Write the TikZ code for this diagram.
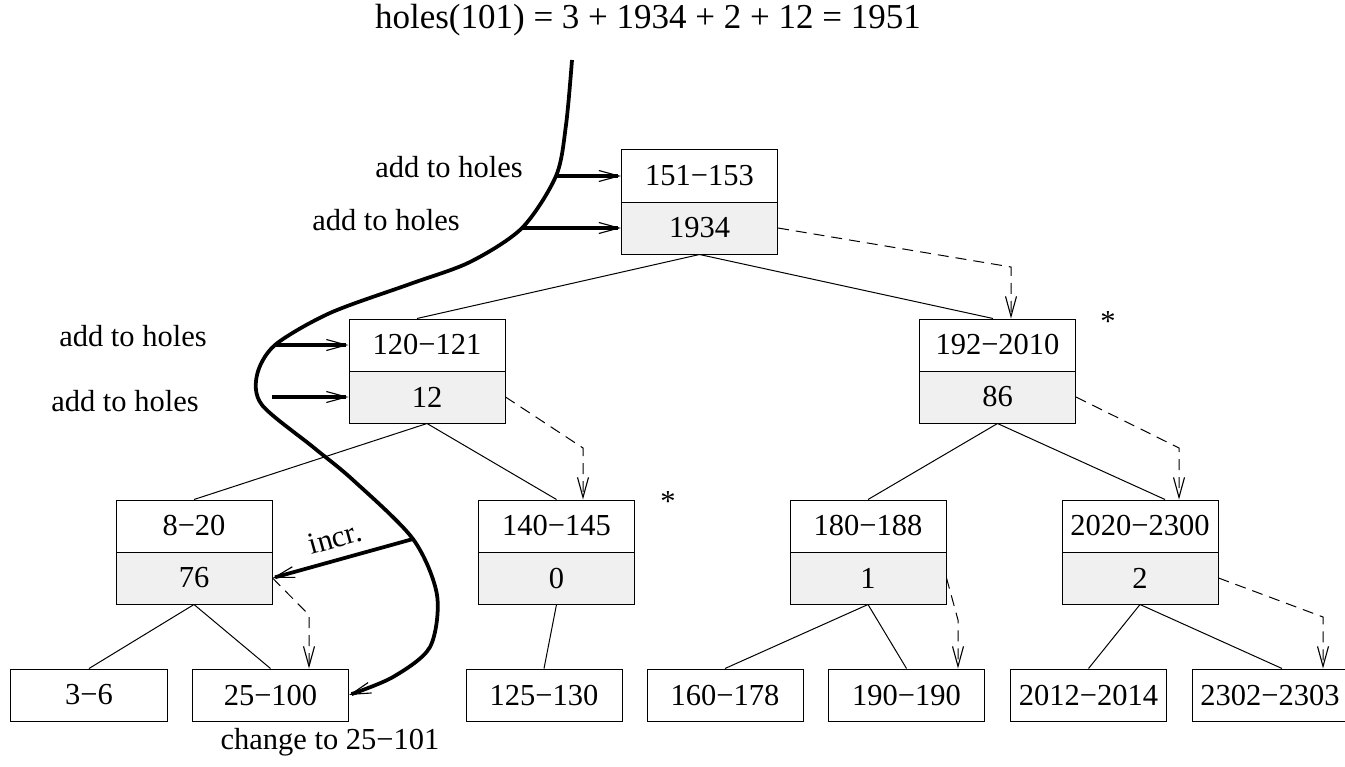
\documentclass[tikz,border=0pt]{standalone}
\usepackage{fontspec}
\setmainfont{Liberation Serif}
\usetikzlibrary{arrows.meta,calc}

\begin{document}
\begin{tikzpicture}[x=0.4pt,y=-0.4pt,font=\fontsize{12.2}{14}\selectfont,
    cell/.style={draw,line width=0.4pt,minimum width=62.4pt,minimum height=20.8pt,inner sep=0pt},
    cnt/.style={cell,fill=gray!12},
    tree/.style={line width=0.4pt},
    tip/.style={-{Straight Barb[length=8pt,width=4.4pt,line width=0.45pt]}},
    ptr/.style={tip,line width=0.4pt,dash pattern=on 4.4pt off 2.8pt},
    walk/.style={tip,line width=1.5pt}]
  \useasboundingbox (0,0) rectangle (1345,766);

  \node (sum) at (648,20) {\fontsize{14}{16}\selectfont holes(101) = 3 + 1934 + 2 + 12 = 1951};

  % inner nodes: key range on top, holes count below
  \node[cell] (n151) at (699.5,176) {151−153};
  \node[cnt] (h151) at (699.5,228) {1934};
  \node[cell] (n120) at (427,345) {120−121};
  \node[cnt] (h120) at (427,397) {12};
  \node[cell] (n192) at (997.5,345) {192−2010};
  \node[cnt] (h192) at (997.5,397) {86};
  \node[cell] (n8) at (194,526) {8−20};
  \node[cnt] (h8) at (194,578) {76};
  \node[cell] (n140) at (556.5,526) {140−145};
  \node[cnt] (h140) at (556.5,578) {0};
  \node[cell] (n180) at (868,526) {180−188};
  \node[cnt] (h180) at (868,578) {1};
  \node[cell] (n2020) at (1140,526) {2020−2300};
  \node[cnt] (h2020) at (1140,578) {2};
  % leaves
  \node[cell] (n3) at (89,695) {3−6};
  \node[cell] (n25) at (270.5,695) {25−100};
  \node[cell] (n125) at (544,695) {125−130};
  \node[cell] (n160) at (725,695) {160−178};
  \node[cell] (n190) at (906.5,695) {190−190};
  \node[cell] (n2012) at (1088.5,695) {2012−2014};
  \node[cell] (n2302) at (1270,695) {2302−2303};

  \node (s192) at (1108,322) {*};
  \node (s140) at (668,502) {*};

  % tree edges
  \draw[tree] (h151.south) -- ([xshift=-4pt]n120.north);
  \draw[tree] (h151.south) -- ([xshift=-1.8pt]n192.north);
  \draw[tree] (h120.south) -- (n8.north);
  \draw[tree] (h120.south) -- (n140.north);
  \draw[tree] (h192.south) -- (n180.north);
  \draw[tree] (h192.south) -- ([xshift=10pt]n2020.north);
  \draw[tree] (h8.south) -- (n3.north);
  \draw[tree] (h8.south) -- (n25.north);
  \draw[tree] (h140.south) -- (n125.north);
  \draw[tree] (h180.south) -- (n160.north);
  \draw[tree] (h180.south) -- (n190.north);
  \draw[tree] (h2020.south) -- (n2012.north);
  \draw[tree] (h2020.south) -- ([xshift=4.8pt]n2302.north);

  % dashed pointers
  \coordinate (d151) at (1011,267);
  \coordinate (d120) at (583,448);
  \coordinate (d192) at (1179,448);
  \coordinate (d8) at (309,615);
  \coordinate (d180) at (958,620);
  \coordinate (d2020) at (1323,617);
  \draw[ptr] (h151.east) -- (d151) -- (d151 |- n192.north);
  \draw[ptr] (h120.east) -- (d120) -- (d120 |- n140.north);
  \draw[ptr] (h192.east) -- (d192) -- (d192 |- n2020.north);
  \draw[ptr] (h8.east) -- (d8) -- (d8 |- n25.north);
  \draw[ptr] (h180.east) -- (d180) -- (d180 |- n190.north);
  \draw[ptr] (h2020.east) -- (d2020) -- (d2020 |- n2302.north);

  % search path for 101
  \coordinate (w0) at (572,60);
  \coordinate (w1) at (556,176);
  \coordinate (w2) at (522,228);
  \coordinate (w3) at (275,345);
  \coordinate (w4) at (272,397);
  \coordinate (w5) at (413,539);
  \draw[walk] plot[smooth] coordinates {(w0) (566,125) (w1) (w2) (470,262) (410,284) (330,313) (w3) (257,375) (262,405) (313,447) (353,480) (w5) (437,595) (430,647) (393,677) (n25.east)};
  \draw[walk] (w1) -- (n151.west);
  \draw[walk] (w2) -- (h151.west);
  \draw[walk] (w3) -- (n120.west);
  \draw[walk] (w4) -- (h120.west);
  \draw[walk] (w5) -- (h8.east);

  \node (t151) at (449,167) {add to holes};
  \node (t1934) at (386,220) {add to holes};
  \node (t120) at (133,336) {add to holes};
  \node (t12) at (125,401) {add to holes};
  \node[rotate=15.6] (incr) at (335,538) {incr.};
  \node (chg) at (330,742) {change to 25−101};
\end{tikzpicture}
\end{document}
